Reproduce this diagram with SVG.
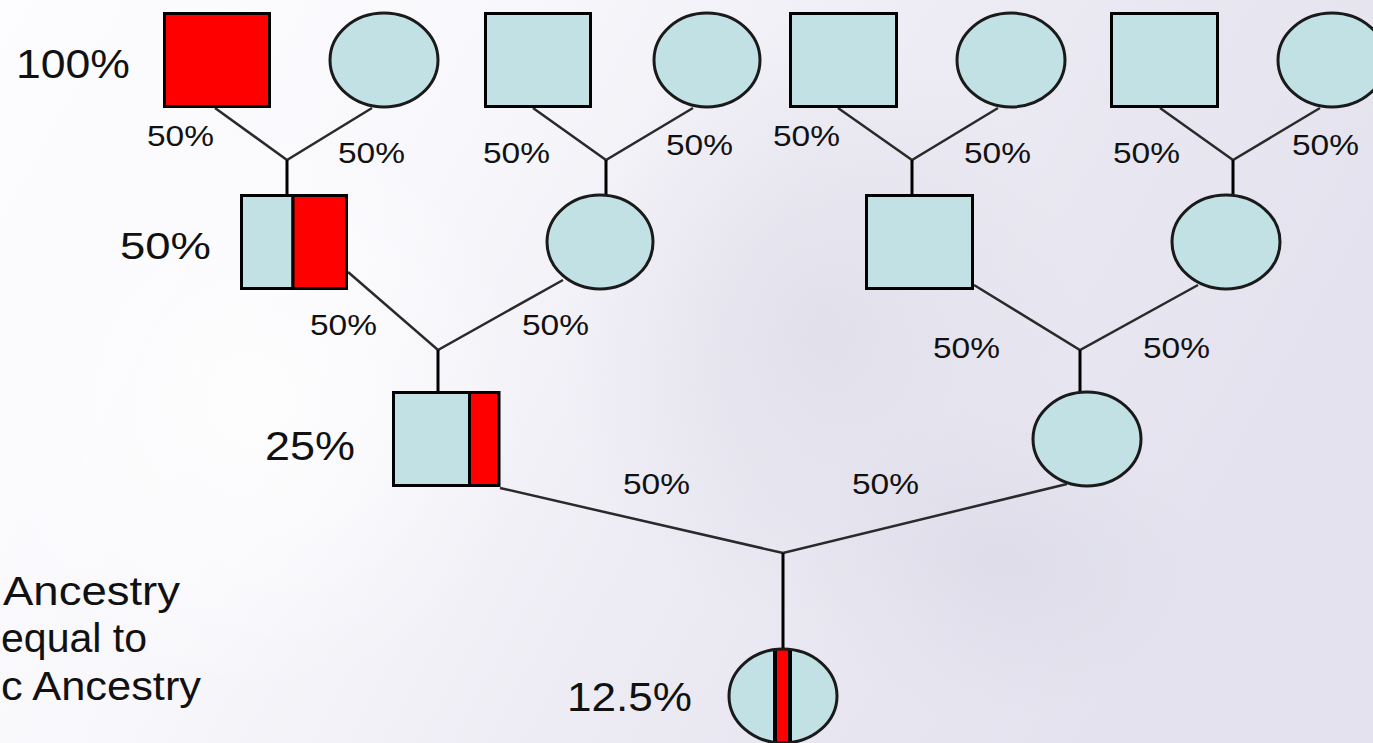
<svg xmlns="http://www.w3.org/2000/svg" width="1373" height="743" viewBox="0 0 1373 743">
<defs>
<linearGradient id="bg" x1="0" y1="0" x2="1" y2="0.3">
<stop offset="0" stop-color="#fdfcfe"/>
<stop offset="0.35" stop-color="#f8f7fb"/>
<stop offset="0.7" stop-color="#ebeaf3"/>
<stop offset="1" stop-color="#e3e2ee"/>
</linearGradient>
<radialGradient id="blob" cx="0.5" cy="0.5" r="0.5">
<stop offset="0" stop-color="#d8d6e4" stop-opacity="0.55"/>
<stop offset="1" stop-color="#d8d6e4" stop-opacity="0"/>
</radialGradient>
<radialGradient id="glow" cx="0.5" cy="0.5" r="0.5">
<stop offset="0" stop-color="#ffffff" stop-opacity="0.8"/>
<stop offset="1" stop-color="#ffffff" stop-opacity="0"/>
</radialGradient>
<clipPath id="botclip"><ellipse cx="783" cy="696" rx="54" ry="47"/></clipPath>
</defs>
<style>
.sq{fill:#c1e1e5;stroke:#000;stroke-width:3}
.red{fill:#ff0000;stroke:#000;stroke-width:3}
.ci{fill:#c1e1e5;stroke:#1a1a1a;stroke-width:3}
.ln{stroke:#2a2a2a;stroke-width:2.5;fill:none}
.vl{stroke:#000;stroke-width:3;fill:none}
.big{font-family:"Liberation Sans",Arial,sans-serif;fill:#111}
.sm{font-family:"Liberation Sans",Arial,sans-serif;font-size:29px;fill:#111}
.side{font-family:"Liberation Sans",Arial,sans-serif;font-size:40px;fill:#111}
</style>
<rect width="1373" height="743" fill="url(#bg)"/>
<ellipse cx="820" cy="330" rx="260" ry="300" fill="url(#blob)"/>
<ellipse cx="1000" cy="560" rx="200" ry="160" fill="url(#blob)"/>
<ellipse cx="250" cy="400" rx="280" ry="300" fill="url(#glow)"/>

<g id="connectors">
<path class="ln" d="M215,108 L287,160 L372,108"/>
<path class="vl" d="M287,160 V195"/>
<path class="ln" d="M533,108 L606,160 L693,108"/>
<path class="vl" d="M606,160 V195"/>
<path class="ln" d="M838,108 L912,160 L998,108"/>
<path class="vl" d="M912,160 V195"/>
<path class="ln" d="M1160,108 L1233,160 L1320,108"/>
<path class="vl" d="M1233,160 V195"/>
<path class="ln" d="M348,272 L438,350 L563,280"/>
<path class="vl" d="M438,350 V392"/>
<path class="ln" d="M974,285 L1080,350 L1198,285"/>
<path class="vl" d="M1080,350 V392"/>
<path class="ln" d="M500,488 L783,553 L1067,484"/>
<path class="vl" d="M783,553 V649"/>
</g>

<g id="n-gm1"><rect class="red" x="164.5" y="13.5" width="105" height="93"/></g>
<g id="n-gf1"><ellipse class="ci" cx="384" cy="60" rx="54" ry="47"/></g>
<g id="n-gm2"><rect class="sq" x="485.5" y="13.5" width="105" height="93"/></g>
<g id="n-gf2"><ellipse class="ci" cx="707" cy="60" rx="53" ry="47"/></g>
<g id="n-gm3"><rect class="sq" x="790.5" y="13.5" width="106" height="93"/></g>
<g id="n-gf3"><ellipse class="ci" cx="1011" cy="60" rx="54" ry="47"/></g>
<g id="n-gm4"><rect class="sq" x="1111.5" y="13.5" width="106" height="93"/></g>
<g id="n-gf4"><ellipse class="ci" cx="1332" cy="60" rx="54" ry="47"/></g>

<g id="n-p1">
<rect class="sq" x="241.5" y="195.5" width="51.5" height="93"/>
<rect class="red" x="293" y="195.5" width="53.5" height="93"/>
</g>
<g id="n-p2"><ellipse class="ci" cx="600" cy="242" rx="53" ry="47"/></g>
<g id="n-p3"><rect class="sq" x="866.5" y="195.5" width="106" height="93"/></g>
<g id="n-p4"><ellipse class="ci" cx="1226" cy="242" rx="54" ry="47"/></g>

<g id="n-c1">
<rect class="sq" x="393.5" y="392.5" width="76" height="93"/>
<rect class="red" x="469.5" y="392.5" width="29.5" height="93"/>
</g>
<g id="n-c2"><ellipse class="ci" cx="1087" cy="439" rx="54" ry="47"/></g>

<g id="n-child">
<ellipse cx="783" cy="696" rx="54" ry="47" fill="#c1e1e5"/>
<rect x="775" y="640" width="15" height="120" fill="#ff0000" stroke="#000" stroke-width="4" clip-path="url(#botclip)"/>
<ellipse cx="783" cy="696" rx="54" ry="47" fill="none" stroke="#1a1a1a" stroke-width="3"/>
</g>

<g id="labels">
<text class="big" x="16" y="78" font-size="41" textLength="114" lengthAdjust="spacingAndGlyphs">100%</text>
<text class="big" x="120" y="259" font-size="37" textLength="91" lengthAdjust="spacingAndGlyphs">50%</text>
<text class="big" x="265" y="460" font-size="41" textLength="90" lengthAdjust="spacingAndGlyphs">25%</text>
<text class="big" x="567" y="711" font-size="41" textLength="125" lengthAdjust="spacingAndGlyphs">12.5%</text>

<text class="sm" x="147" y="146" textLength="67" lengthAdjust="spacingAndGlyphs">50%</text>
<text class="sm" x="338" y="163" textLength="67" lengthAdjust="spacingAndGlyphs">50%</text>
<text class="sm" x="483" y="163" textLength="67" lengthAdjust="spacingAndGlyphs">50%</text>
<text class="sm" x="666" y="155" textLength="67" lengthAdjust="spacingAndGlyphs">50%</text>
<text class="sm" x="773" y="146" textLength="67" lengthAdjust="spacingAndGlyphs">50%</text>
<text class="sm" x="964" y="163" textLength="67" lengthAdjust="spacingAndGlyphs">50%</text>
<text class="sm" x="1113" y="163" textLength="67" lengthAdjust="spacingAndGlyphs">50%</text>
<text class="sm" x="1292" y="155" textLength="67" lengthAdjust="spacingAndGlyphs">50%</text>
<text class="sm" x="310" y="335" textLength="67" lengthAdjust="spacingAndGlyphs">50%</text>
<text class="sm" x="522" y="335" textLength="67" lengthAdjust="spacingAndGlyphs">50%</text>
<text class="sm" x="933" y="358" textLength="67" lengthAdjust="spacingAndGlyphs">50%</text>
<text class="sm" x="1143" y="358" textLength="67" lengthAdjust="spacingAndGlyphs">50%</text>
<text class="sm" x="623" y="494" textLength="67" lengthAdjust="spacingAndGlyphs">50%</text>
<text class="sm" x="852" y="494" textLength="67" lengthAdjust="spacingAndGlyphs">50%</text>

<text class="side" x="3" y="605" textLength="177" lengthAdjust="spacingAndGlyphs">Ancestry</text>
<text class="side" x="1" y="652" textLength="146" lengthAdjust="spacingAndGlyphs">equal to</text>
<text class="side" x="1" y="700" textLength="200" lengthAdjust="spacingAndGlyphs">c Ancestry</text>
</g>
</svg>
